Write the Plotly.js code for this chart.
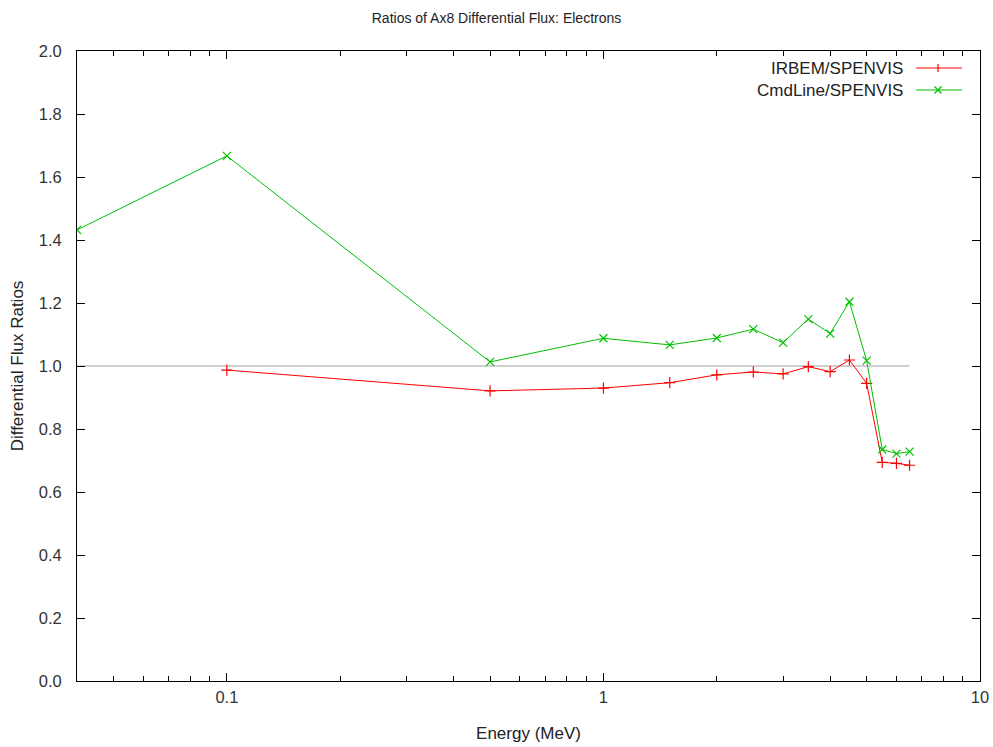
<!DOCTYPE html>
<html>
<head>
<meta charset="utf-8">
<script src="https://cdn.plot.ly/plotly-3.0.1.min.js"></script>
<style>html,body{margin:0;padding:0;background:#fff;}#chart{width:993px;height:747px;}</style>
</head>
<body>
<div id="chart"></div>
<script>
var energyIrbem = [0.1, 0.5, 1, 1.5, 2, 2.5, 3, 3.5, 4, 4.5, 5, 5.5, 6, 6.5];
var ratioIrbem = [0.987, 0.921, 0.930, 0.947, 0.972, 0.981, 0.975, 0.998, 0.982, 1.019, 0.945, 0.694, 0.691, 0.685];
var energyCmd = [0.04, 0.1, 0.5, 1, 1.5, 2, 2.5, 3, 3.5, 4, 4.5, 5, 5.5, 6, 6.5];
var ratioCmd = [1.432, 1.667, 1.013, 1.088, 1.067, 1.089, 1.117, 1.074, 1.149, 1.103, 1.204, 1.017, 0.735, 0.722, 0.728];
var refEnergy = [0.04, 6.5];
var refRatio = [1.0, 1.0];
var yTicks = [0, 0.2, 0.4, 0.6, 0.8, 1.0, 1.2, 1.4, 1.6, 1.8, 2.0];
var xTicks = [0.1, 1, 10];
var xTickLabels = ['0.1', '1', '10'];
var xMinorTicks = [0.05, 0.06, 0.07, 0.08, 0.09, 0.2, 0.3, 0.4, 0.5, 0.6, 0.7, 0.8, 0.9, 2, 3, 4, 5, 6, 7, 8, 9];
var seriesNames = ['IRBEM/SPENVIS', 'CmdLine/SPENVIS'];

var red = '#ff0000', green = '#00c000';
var traces = [
  {x: refEnergy, y: refRatio, mode: 'lines', line: {color: '#a0a0a0', width: 1}, showlegend: false, hoverinfo: 'skip'},
  {x: energyIrbem, y: ratioIrbem, name: seriesNames[0], mode: 'lines+markers',
   line: {color: red, width: 1}, marker: {symbol: 'cross-thin-open', size: 8, line: {color: red, width: 1.2}}, showlegend: false},
  {x: energyCmd, y: ratioCmd, name: seriesNames[1], mode: 'lines+markers',
   line: {color: green, width: 1}, marker: {symbol: 'x-thin-open', size: 8, line: {color: green, width: 1.2}}, showlegend: false}
];

var W = 993, H = 747, ml = 77, mr = 13, mt = 51, mb = 66;
function px(x){ return (x - ml) / (W - ml - mr); }
function py(y){ return (H - mb - y) / (H - mt - mb); }

var annotations = [];
var shapes = [];
var legY = [68, 90];
var colors = [red, green];
for (var i = 0; i < 2; i++) {
  annotations.push({xref: 'paper', yref: 'paper', x: px(905), y: py(legY[i]), xanchor: 'right', yanchor: 'middle',
    text: seriesNames[i], showarrow: false, font: {family: 'Liberation Sans, Arial', size: 17, color: '#222'}});
  shapes.push({type: 'line', xref: 'paper', yref: 'paper', x0: px(916), x1: px(962), y0: py(legY[i]), y1: py(legY[i]), line: {color: colors[i], width: 1}});
}
shapes.push({type: 'line', xref: 'paper', yref: 'paper', x0: px(938), x1: px(938), y0: py(64), y1: py(72), line: {color: red, width: 1.2}});
shapes.push({type: 'line', xref: 'paper', yref: 'paper', x0: px(934.5), x1: px(941.5), y0: py(86.5), y1: py(93.5), line: {color: green, width: 1.2}});
shapes.push({type: 'line', xref: 'paper', yref: 'paper', x0: px(934.5), x1: px(941.5), y0: py(93.5), y1: py(86.5), line: {color: green, width: 1.2}});

var layout = {
  width: W, height: H,
  margin: {l: ml, r: mr, t: mt, b: mb},
  paper_bgcolor: '#fff', plot_bgcolor: '#fff',
  font: {family: 'Liberation Sans, Arial, sans-serif', color: '#333'},
  title: {text: 'Ratios of Ax8 Differential Flux: Electrons', x: 0.5, xanchor: 'center', y: 1 - 18/H, yanchor: 'middle',
          font: {size: 14, color: '#222'}},
  xaxis: {type: 'log', range: [Math.log10(0.04), 1], tickvals: xTicks, ticktext: xTickLabels,
          ticks: 'inside', ticklen: 8, tickcolor: '#000', tickwidth: 1,
          minor: {tickvals: xMinorTicks, ticks: 'inside', ticklen: 5, tickcolor: '#000', showgrid: false},
          showline: true, linecolor: '#000', linewidth: 1, mirror: 'allticks', showgrid: false, zeroline: false,
          tickfont: {size: 16.5, color: '#333'}, ticklabelstandoff: 1,
          title: {text: 'Energy (MeV)', font: {size: 17, color: '#222'}, standoff: 22}},
  yaxis: {range: [0, 2], tickvals: yTicks, tickformat: '.1f',
          ticks: 'inside', ticklen: 8, tickcolor: '#000', tickwidth: 1,
          showline: true, linecolor: '#000', linewidth: 1, mirror: 'allticks', showgrid: false, zeroline: false,
          tickfont: {size: 16.5, color: '#333'}, ticklabelstandoff: 11,
          title: {text: 'Differential Flux Ratios', font: {size: 17, color: '#222'}, standoff: 10}},
  showlegend: false,
  annotations: annotations,
  shapes: shapes
};
Plotly.newPlot('chart', traces, layout, {displayModeBar: false, staticPlot: true});
</script>
</body>
</html>
